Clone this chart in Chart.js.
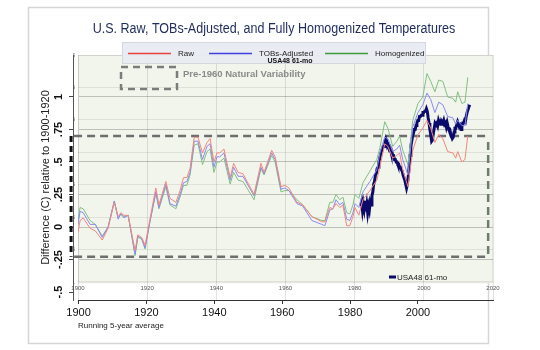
<!DOCTYPE html>
<html>
<head>
<meta charset="utf-8">
<script src="https://cdn.jsdelivr.net/npm/chart.js@4.4.0/dist/chart.umd.min.js"></script>
<style>
  html, body { margin: 0; padding: 0; background: #fff; }
  #wrap { width: 540px; height: 350px; }
</style>
</head>
<body>
<div id="wrap"><canvas id="grafico"></canvas></div>
<script>
// Running 5-year averages, difference vs 1900-1920 (C)
const anos = [1900, 1900.6, 1901.5, 1903.5, 1905, 1907, 1908.7, 1910.5, 1911.6, 1912.4, 1913.3, 1914.5,
  1916.5, 1917.3, 1918.4, 1919.4, 1920.8, 1922.5, 1923.4, 1925.4, 1926.6, 1928.3, 1929.5, 1930.5,
  1931.5, 1932.4, 1933.6, 1934.7, 1936, 1937.3, 1938.2, 1939.3, 1940.2, 1941, 1942.2, 1944, 1945,
  1946.3, 1947.7, 1950.9, 1952.9, 1953.8, 1956, 1957, 1958.7, 1959.8, 1961, 1963.3, 1965, 1967.6,
  1970.5, 1971.4, 1972.8, 1973.7, 1974.6, 1975.7, 1976.6, 1977.7, 1978.6, 1979.5, 1980.1, 1981.2,
  1982.4, 1984.4, 1986.4, 1987.3, 1988.7, 1989.6, 1991, 1992.2, 1993, 1993.9, 1995.4, 1996.8,
  1998.3, 1999.7, 2000.9, 2002, 2003.2, 2004.3, 2005.5, 2006.9, 2008.4, 2009.2, 2009.8, 2011,
  2011.9, 2012.7];

const bruto = [-0.04, 0.05, 0.07, -0.01, -0.03, -0.10, -0.01, 0.19, 0.08, 0.11, 0.09, 0.09,
  -0.18, -0.06, -0.08, -0.14, 0.06, 0.30, 0.17, 0.35, 0.22, 0.19, 0.28, 0.38,
  0.38, 0.45, 0.69, 0.69, 0.57, 0.65, 0.68, 0.50, 0.57, 0.57, 0.60, 0.38, 0.49,
  0.42, 0.41, 0.25, 0.49, 0.42, 0.59, 0.54, 0.31, 0.32, 0.30, 0.19, 0.17, 0.08,
  0.04, 0.04, 0.15, 0.14, 0.18, 0.15, 0.17, 0.01, 0.01, 0.08, 0.15, 0.09,
  0.21, 0.28, 0.36, 0.46, 0.64, 0.62, 0.53, 0.55, 0.57, 0.44, 0.31, 0.59,
  0.71, 0.76, 0.82, 0.76, 0.65, 0.71, 0.68, 0.58, 0.57, 0.53, 0.58, 0.50,
  0.52, 0.70];

const tobs = [0.02, 0.12, 0.11, 0.02, 0.02, -0.08, 0.00, 0.20, 0.06, 0.10, 0.07, 0.09,
  -0.21, -0.07, -0.09, -0.16, 0.04, 0.27, 0.15, 0.33, 0.18, 0.16, 0.25, 0.34,
  0.35, 0.42, 0.66, 0.66, 0.52, 0.62, 0.64, 0.46, 0.54, 0.54, 0.57, 0.36, 0.46,
  0.39, 0.39, 0.24, 0.46, 0.41, 0.57, 0.52, 0.29, 0.30, 0.28, 0.18, 0.16, 0.05,
  0.02, 0.01, 0.13, 0.14, 0.21, 0.17, 0.19, 0.06, 0.05, 0.11, 0.18, 0.15,
  0.27, 0.35, 0.44, 0.57, 0.69, 0.68, 0.58, 0.60, 0.63, 0.52, 0.40, 0.77,
  0.88, 0.94, 1.03, 0.98, 0.88, 0.96, 0.94, 0.85, 0.84, 0.79, 0.82, 0.78,
  0.78, 0.95];

const homog = [0.05, 0.15, 0.14, 0.05, 0.02, -0.07, 0.00, 0.20, 0.07, 0.10, 0.08, 0.09,
  -0.22, -0.08, -0.09, -0.17, 0.04, 0.26, 0.14, 0.31, 0.17, 0.14, 0.23, 0.32,
  0.32, 0.40, 0.63, 0.64, 0.48, 0.58, 0.60, 0.42, 0.50, 0.50, 0.53, 0.33, 0.42,
  0.36, 0.35, 0.21, 0.45, 0.40, 0.55, 0.50, 0.27, 0.28, 0.28, 0.21, 0.17, 0.08,
  0.05, 0.05, 0.19, 0.19, 0.25, 0.21, 0.23, 0.11, 0.10, 0.17, 0.25, 0.22,
  0.34, 0.43, 0.52, 0.61, 0.81, 0.76, 0.62, 0.66, 0.70, 0.59, 0.48, 0.82,
  0.95, 1.00, 1.18, 1.12, 1.04, 1.13, 1.12, 1.00, 0.99, 0.96, 1.04, 0.95,
  0.96, 1.15];

// USA48 61-month series, quarterly readings from 1981.75
const usaInicio = 1981.75;
const usaPasso = 0.25;
const usa48 = [0.16, 0.19, 0.13, 0.18, 0.14, 0.20, 0.12, 0.17, 0.11, 0.16, 0.13, 0.19, 0.17,
  0.24, 0.27, 0.33, 0.35, 0.40, 0.41, 0.45, 0.46, 0.50, 0.53, 0.56, 0.58,
  0.60, 0.62, 0.62, 0.66,
  0.68, 0.66, 0.62, 0.63, 0.60, 0.61, 0.58, 0.58, 0.55, 0.55, 0.52, 0.52,
  0.50, 0.50, 0.48, 0.48, 0.46, 0.46, 0.44, 0.43, 0.40, 0.40, 0.36, 0.33,
  0.30, 0.33, 0.39, 0.46, 0.55, 0.62, 0.66, 0.70, 0.72, 0.75, 0.75, 0.78,
  0.80, 0.82, 0.82, 0.85, 0.85, 0.86, 0.86, 0.88, 0.88, 0.89, 0.89, 0.91,
  0.89, 0.84, 0.80, 0.75, 0.71, 0.66, 0.67, 0.72, 0.76, 0.80, 0.79, 0.80,
  0.78, 0.82, 0.80, 0.81, 0.79, 0.81, 0.80, 0.82, 0.79, 0.80, 0.77, 0.80,
  0.77, 0.75, 0.75, 0.72, 0.70, 0.68, 0.69, 0.73, 0.76, 0.76, 0.79, 0.81,
  0.79, 0.77, 0.78, 0.75, 0.77, 0.80, 0.80, 0.82, 0.81, 0.85, 0.88, 0.88,
  0.92, 0.94];

// pre-1960 natural variability band
const faixaValores = [-0.228, 0.70];
const faixaAnos = [1898.0, 2018.6];

const nomes = ['Raw', 'TOBs-Adjusted', 'Homogenized', 'USA48 61-mo'];
const coresLinha = ['#f3877e', '#8a8af2', '#82c082', '#0b0b6b'];
const coresLegenda = ['#e8403c', '#4040e0', '#3c9a3c'];

function serie(xs, ys) {
  return ys.map((v, i) => ({ x: xs[i], y: v }));
}
const usaSerie = usa48.map((v, i) => ({ x: usaInicio + i * usaPasso, y: v }));

function rotuloFg(v) {
  if (v > 1.01) return '';
  if (Math.abs(v) < 1e-9) return '0';
  return String(Math.round(v * 100) / 100).replace('0.', '.');
}

const FONTE = '"Liberation Sans", Arial, sans-serif';
Chart.defaults.font.family = FONTE;

// card + green plot panel
const fundo = {
  id: 'fundo',
  beforeDraw(chart) {
    const { ctx, scales: { x, ybg } } = chart;
    ctx.save();
    ctx.fillStyle = '#fff';
    ctx.fillRect(0, 0, chart.width, chart.height);
    ctx.strokeStyle = '#d6d6d6';
    ctx.lineWidth = 1.5;
    ctx.strokeRect(28.5, 7.5, 460, 336);
    const l = x.getPixelForValue(1900), r = x.getPixelForValue(2020);
    const t = ybg.getPixelForValue(0.75), b = ybg.getPixelForValue(-1.01);
    ctx.fillStyle = '#f2f5ec';
    ctx.fillRect(l, t, r - l, b - t);
    ctx.strokeStyle = '#e3e5df';
    ctx.lineWidth = 1;
    ctx.strokeRect(l + 0.5, t + 0.5, r - l - 1, b - t - 1);
    ctx.restore();
  }
};

// dashed variability box, under the USA48 line
const caixas = {
  id: 'caixas',
  beforeDatasetDraw(chart, args) {
    if (args.index !== 3) return;
    const { ctx, scales: { x, y } } = chart;
    const esq = x.getPixelForValue(faixaAnos[0]);
    const dir = x.getPixelForValue(faixaAnos[1]);
    const topo = y.getPixelForValue(faixaValores[1]);
    const base = y.getPixelForValue(faixaValores[0]);
    ctx.save();
    ctx.setLineDash([8, 5]);
    ctx.lineWidth = 2.5;
    ctx.strokeStyle = '#6e6e6e';
    ctx.beginPath();
    ctx.moveTo(esq + 3, topo); ctx.lineTo(dir, topo);
    ctx.moveTo(esq + 3, base); ctx.lineTo(dir, base);
    ctx.stroke();
    ctx.strokeStyle = '#6f7b6f';
    ctx.beginPath();
    ctx.moveTo(dir, topo + 6); ctx.lineTo(dir, base);
    ctx.stroke();
    ctx.strokeStyle = '#111';
    ctx.lineWidth = 3;
    ctx.setLineDash([6, 4]);
    ctx.beginPath();
    ctx.moveTo(esq, topo); ctx.lineTo(esq, base);
    ctx.stroke();
    ctx.restore();
  }
};

// title, legends and notes
const textos = {
  id: 'textos',
  afterDraw(chart) {
    const { ctx } = chart;
    const ds = chart.data.datasets;
    ctx.save();
    ctx.fillStyle = '#1e2b5c';
    ctx.font = '14px ' + FONTE;
    ctx.textAlign = 'center';
    ctx.textBaseline = 'middle';
    ctx.save();
    ctx.translate(274, 29);
    ctx.scale(0.895, 1);
    ctx.fillText('U.S. Raw, TOBs-Adjusted, and Fully Homogenized Temperatures', 0, 0);
    ctx.restore();

    ctx.fillStyle = 'rgba(232,235,241,0.95)';
    ctx.fillRect(122, 42, 304, 22);
    ctx.strokeStyle = '#d3d7df';
    ctx.lineWidth = 1;
    ctx.strokeRect(122.5, 42.5, 303, 21);
    const inicio = [128, 209, 325];
    ctx.font = '8px ' + FONTE;
    ctx.textAlign = 'left';
    for (let i = 0; i < 3; i++) {
      ctx.strokeStyle = coresLegenda[i];
      ctx.lineWidth = 1.3;
      ctx.beginPath();
      ctx.moveTo(inicio[i], 53.5); ctx.lineTo(inicio[i] + 43, 53.5);
      ctx.stroke();
      ctx.fillStyle = '#222';
      ctx.fillText(ds[i].label, inicio[i] + 50, 54);
    }
    ctx.font = 'bold 7px ' + FONTE;
    ctx.textAlign = 'center';
    ctx.fillStyle = '#111';
    ctx.fillText(ds[3].label, 290, 61);

    ctx.setLineDash([7, 5]);
    ctx.lineWidth = 2.5;
    ctx.strokeStyle = '#7c7c7c';
    ctx.strokeRect(121, 67, 56, 22);
    ctx.setLineDash([]);
    ctx.font = 'bold 9.5px ' + FONTE;
    ctx.textAlign = 'left';
    ctx.fillStyle = '#8a8a8a';
    ctx.fillText('Pre-1960 Natural Variability', 183, 74);

    ctx.strokeStyle = ds[3].borderColor;
    ctx.lineWidth = 3;
    ctx.beginPath();
    ctx.moveTo(389, 277); ctx.lineTo(396, 277);
    ctx.stroke();
    ctx.font = '8px ' + FONTE;
    ctx.fillStyle = '#222';
    ctx.fillText(ds[3].label, 397, 277.5);
    ctx.restore();
  }
};

const linha = (i, data, w) => ({
  label: nomes[i], data, borderColor: coresLinha[i], borderWidth: w,
  pointRadius: 0, tension: 0, fill: false, xAxisID: 'x', yAxisID: 'y'
});

new Chart(document.getElementById('grafico'), {
  type: 'line',
  data: {
    datasets: [
      linha(0, serie(anos, bruto), 1),
      linha(1, serie(anos, tobs), 1),
      linha(2, serie(anos, homog), 1),
      linha(3, usaSerie, 3)
    ]
  },
  options: {
    responsive: true,
    maintainAspectRatio: false,
    animation: false,
    layout: { padding: { left: 33, right: 47, top: 55, bottom: 10 } },
    plugins: { legend: { display: false }, title: { display: false }, tooltip: { enabled: false } },
    scales: {
      x: {
        type: 'linear', min: 1900, max: 2020,
        position: { ybg: -1.0 },
        ticks: { stepSize: 20, padding: 3, color: '#555', font: { size: 6 }, callback: v => String(v) },
        grid: { color: 'rgba(0,0,0,0.11)', drawTicks: false },
        border: { display: false }
      },
      x2: {
        type: 'linear', min: 1899.85, max: 2022.1, position: 'bottom',
        afterFit: s => { s.height = 40; },
        ticks: { stepSize: 20, includeBounds: false, padding: 2, color: '#111', font: { size: 11 },
          maxRotation: 0, callback: v => v > 2010 ? '' : String(v) },
        grid: { drawOnChartArea: false, tickLength: 4,
          tickColor: c => (c.tick && c.tick.value > 2010) ? 'rgba(0,0,0,0)' : '#333' },
        border: { display: true, color: '#333' },
        title: { display: true, text: 'Running 5-year average', align: 'start', color: '#222',
          font: { size: 8 }, padding: { top: 0, bottom: 9 } }
      },
      y: {
        type: 'linear', min: -0.5615, max: 1.323, position: 'left', weight: 2,
        afterFit: s => { s.width = 40; },
        ticks: { stepSize: 0.25, includeBounds: false, minRotation: 90, maxRotation: 90,
          crossAlign: 'center', padding: 1, color: '#111', font: { size: 11, weight: 'bold' },
          callback: rotuloFg },
        grid: {
          color: c => (c.tick && (c.tick.value > 1.01 || c.tick.value < -0.3)) ? 'rgba(0,0,0,0)' : 'rgba(0,0,0,0.22)',
          borderDash: [1, 3], tickLength: 4, tickBorderDash: [],
          tickColor: c => (c.tick && c.tick.value > 1.01) ? 'rgba(0,0,0,0)' : '#444'
        },
        border: { display: true, color: '#555' },
        title: { display: true, text: 'Difference (C) relative to 1900-1920', color: '#222',
          font: { size: 11 }, padding: { top: 6.4, bottom: 0 } }
      },
      ybg: {
        type: 'linear', min: -1.14, max: 0.75, position: 'left', weight: 1,
        afterFit: s => { s.width = 5; },
        ticks: { stepSize: 0.25, includeBounds: false, padding: 3, color: '#555', font: { size: 6 },
          callback: v => Math.abs(v) < 1e-9 ? '' : String(Math.round(v * 100) / 100) },
        grid: { color: 'rgba(0,0,0,0.08)', drawTicks: false },
        border: { display: false }
      }
    }
  },
  plugins: [fundo, caixas, textos]
});
</script>
</body>
</html>
